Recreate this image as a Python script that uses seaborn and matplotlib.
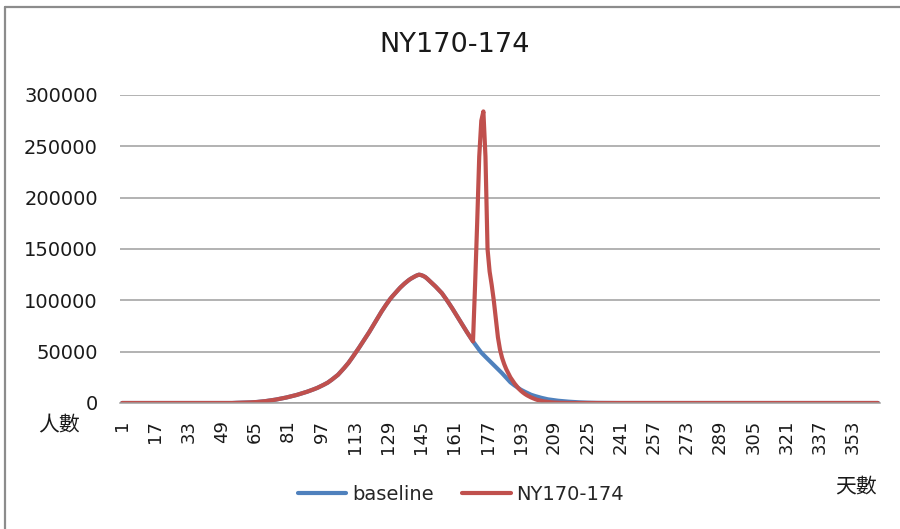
import matplotlib
matplotlib.use("Agg")
import matplotlib.pyplot as plt
from matplotlib.lines import Line2D
import numpy as np
import pandas as pd
import seaborn as sns

# ---- data -------------------------------------------------------------
title_text = "NY170-174"
series_names = ["baseline", "NY170-174"]
series_colors = ["#4F81BD", "#C0504D"]
y_label = "人數"
x_label = "天數"

days = list(range(1, 366))
tick_days = list(range(1, 366, 16))          # 1, 17, 33, ... 353
y_ticks = [0, 50000, 100000, 150000, 200000, 250000, 300000]

# baseline daily counts: zero for days 1-54, then days 55..235, then zero
baseline = [0] * 54 + [
    120, 160, 210, 260, 320, 380, 450, 530, 610, 700, 800,
    980, 1170, 1370, 1580, 1800,
    2080, 2370, 2670, 2980, 3300,
    3680, 4070, 4470, 4880, 5300,
    5780, 6270, 6770, 7280, 7800,
    8400, 9010, 9630, 10260, 10900,
    11620, 12360, 13120, 13900, 14700,
    15650, 16650, 17650, 18700, 19800,
    21200, 22700, 24300, 25900, 27500,
    29700, 31900, 34200, 36600, 39000,
    41800, 44700, 47600, 50500, 53500,
    56600, 59700, 62800, 65900, 69000,
    72400, 75800, 79200, 82600, 86000,
    89200, 92300, 95300, 98200, 101000,
    103500, 105800, 108000, 110300, 112500,
    114400, 116300, 118000, 119600, 121000,
    122200, 123300, 124300, 125000, 124600,
    123800, 122700, 121000, 119100, 117200,
    115300, 113400, 111300, 109200, 107000,
    104200, 101300, 98400, 95300, 92200,
    88900, 85600, 82300, 79000, 75700,
    72500, 69300, 66200, 63100, 60000,
    57200, 54400, 51700, 49100, 47000,
    45000, 43000, 41000, 39000, 37000,
    35000, 33000, 31000, 29000, 26800,
    24600, 22300, 20200, 18600, 17100,
    15700, 14300, 13000, 11900, 10900,
    9900, 8900, 8000, 7300, 6700,
    6100, 5500, 5000, 4500, 4000,
    3600, 3300, 3000, 2700, 2450,
    2200, 2000, 1800, 1600, 1450,
    1300, 1150, 1000, 880, 760,
    650, 550, 470, 400, 340,
    280, 230, 190, 150, 120,
    100, 80, 60, 50, 40,
]
baseline += [0] * (len(days) - len(baseline))

# scenario: identical to baseline through day 170, its own values for days 171..219
ny170_174 = baseline[:170] + [
    115000, 175000, 240000, 275000, 284000,
    240000, 150000, 128000, 115000, 100000,
    82000, 64000, 52000, 44000, 38000,
    33000, 29000, 25000, 22000, 19000,
    16500, 14000, 12000, 10300, 8800,
    7500, 6400, 5400, 4500, 3700,
    3000, 2500, 2000, 1600, 1300,
    1000, 800, 600, 450, 340,
    250, 180, 130, 100, 70,
    50, 30, 20, 10,
]
ny170_174 += [0] * (len(days) - len(ny170_174))

df = pd.DataFrame({
    "day": days * 2,
    "count": baseline + ny170_174,
    "series": [series_names[0]] * len(days) + [series_names[1]] * len(days),
})

# ---- figure -----------------------------------------------------------
sns.set_theme(style="white")
plt.rcParams["font.family"] = ["DejaVu Sans"]
cjk = ["Noto Sans CJK TC", "DejaVu Sans"]

W, H = 900, 529
fig = plt.figure(figsize=(W / 100, H / 100), dpi=100)
fig.patch.set_facecolor("white")
ax = fig.add_axes([120 / W, 1 - 403 / H, 760 / W, 308 / H])

sns.lineplot(
    data=df, x="day", y="count", hue="series",
    palette=dict(zip(series_names, series_colors)),
    hue_order=series_names, estimator=None, linewidth=3,
    solid_capstyle="round", ax=ax,
)

ax.set_xlim(0, 366)
ax.set_ylim(0, 300000)

ax.set_xticks(tick_days)
ax.set_xticklabels([str(d) for d in tick_days], rotation=90, fontsize=13,
                   color="#1a1a1a")
ax.set_yticks(y_ticks)
ax.set_yticklabels([str(v) for v in y_ticks], fontsize=14, color="#1a1a1a")
ax.tick_params(axis="x", length=0, pad=12)
ax.tick_params(axis="y", length=0, pad=16)

ax.yaxis.grid(True, color="#9E9E9E", linewidth=1.1)
ax.xaxis.grid(False)
ax.set_axisbelow(True)
for side in ["left", "right", "top"]:
    ax.spines[side].set_visible(False)
ax.spines["bottom"].set_color("#9E9E9E")
ax.spines["bottom"].set_linewidth(1.1)
ax.set_xlabel("")
ax.set_ylabel("")

handles, labels = ax.get_legend_handles_labels()
ax.get_legend().remove()
fig.legend(handles, labels, loc="center", ncol=2, frameon=False,
           bbox_to_anchor=(461 / W, 1 - 494 / H), fontsize=14,
           handlelength=2.5, handletextpad=0.3, columnspacing=1.45)

fig.text(455 / W, 1 - 45 / H, title_text, ha="center", va="center",
         fontsize=19.5, color="#1a1a1a")
fig.text(59 / W, 1 - 425 / H, y_label, ha="center", va="center",
         fontsize=15, family=cjk, color="#1a1a1a")
fig.text(856 / W, 1 - 486 / H, x_label, ha="center", va="center",
         fontsize=15, family=cjk, color="#1a1a1a")

# chart frame (left and top edges)
fig.add_artist(Line2D([5 / W, 5 / W], [0, 1 - 7 / H], transform=fig.transFigure,
                      color="#8C8C8C", linewidth=1.6))
fig.add_artist(Line2D([5 / W, 1], [1 - 7 / H, 1 - 7 / H], transform=fig.transFigure,
                      color="#8C8C8C", linewidth=1.6))

fig.savefig("out.png", dpi=100, facecolor="white")
